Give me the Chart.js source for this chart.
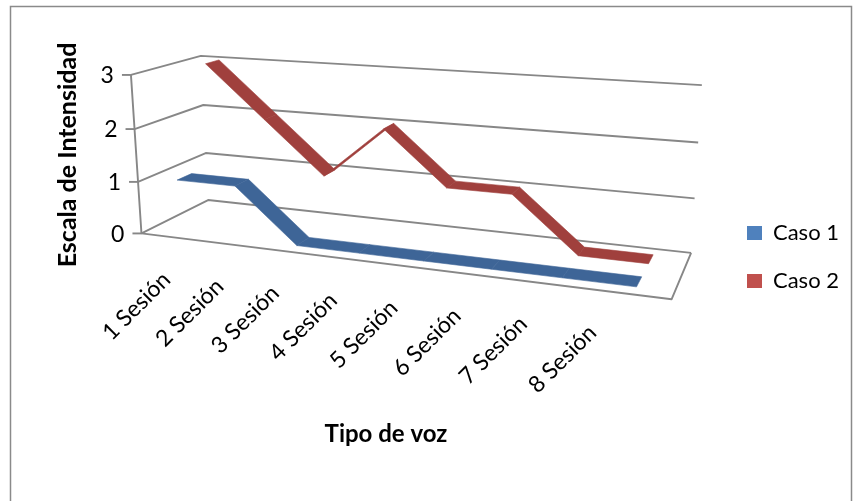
<!DOCTYPE html>
<html>
<head>
<meta charset="utf-8">
<script src="https://cdn.jsdelivr.net/npm/chart.js@4.4.1/dist/chart.umd.min.js"></script>
<style>
  html, body { margin: 0; padding: 0; background: #ffffff; }
  canvas { display: block; }
</style>
</head>
<body>
<canvas id="chart" width="857" height="501"></canvas>
<script>
// ---- data ----
const sessions = ['1 Sesión', '2 Sesión', '3 Sesión', '4 Sesión', '5 Sesión', '6 Sesión', '7 Sesión', '8 Sesión'];
const caso1 = [1, 1, 0, 0, 0, 0, 0, 0];
const caso2 = [3, 2, 1, 2, 1, 1, 0, 0];
const intensityTicks = [0, 1, 2, 3];
const seriesNames = ['Caso 1', 'Caso 2'];

// ---- look ----
const LEGEND_COLORS = ['#4F81BD', '#C0504D'];
const RIBBON_COLORS = ['#3E6597', '#A0403D'];
const GRID_COLOR = '#878787';
const FONT = 'Lato, "Open Sans", sans-serif';

// Placement of the perspective plot box: [u, v, w, x, y]
// u runs along the categories, v up the value axis, w from the front to the back wall.
const BOX_FRAME = [
  [0, 0, 0, 140.7, 233.3], [0, 1, 0, 131.7, 75.0],
  [0, 0, 1, 208.3, 200.0], [0, 1, 1, 200.0, 55.7],
  [1, 0, 1, 690.7, 252.7], [1, 1, 1, 701.7, 85.0],
  [1, 0, 0, 671.7, 299.3],
  [0, 1 / 3, 1, 206.7, 153.3], [0, 2 / 3, 1, 203.0, 105.0],
  [1, 1 / 3, 1, 695.0, 198.3], [1, 2 / 3, 1, 698.3, 142.7]
];
// depth band (front, back) of each series ribbon
const ROW_DEPTH = [[0.15, 0.36], [0.65, 0.86]];

// Least-squares fit of a 3x4 projective camera to the frame points.
function makeProjection(frame) {
  const cx = 420, cy = 180, s = 300;
  const rows = [], rhs = [];
  frame.forEach(([u, v, w, X, Y]) => {
    const x = (X - cx) / s, y = (Y - cy) / s;
    rows.push([u, v, w, 1, 0, 0, 0, 0, -x * u, -x * v, -x * w]); rhs.push(x);
    rows.push([0, 0, 0, 0, u, v, w, 1, -y * u, -y * v, -y * w]); rhs.push(y);
  });
  const n = 11;
  const M = Array.from({ length: n }, () => new Array(n + 1).fill(0));
  rows.forEach((r, k) => {
    for (let i = 0; i < n; i++) {
      for (let j = 0; j < n; j++) M[i][j] += r[i] * r[j];
      M[i][n] += r[i] * rhs[k];
    }
  });
  for (let c = 0; c < n; c++) {
    let p = c;
    for (let r = c + 1; r < n; r++) if (Math.abs(M[r][c]) > Math.abs(M[p][c])) p = r;
    [M[c], M[p]] = [M[p], M[c]];
    for (let r = 0; r < n; r++) {
      if (r === c) continue;
      const f = M[r][c] / M[c][c];
      for (let j = c; j <= n; j++) M[r][j] -= f * M[c][j];
    }
  }
  const q = M.map((r, i) => r[n] / r[i]);
  return (u, v, w) => {
    const d = q[8] * u + q[9] * v + q[10] * w + 1;
    return {
      x: cx + s * (q[0] * u + q[1] * v + q[2] * w + q[3]) / d,
      y: cy + s * (q[4] * u + q[5] * v + q[6] * w + q[7]) / d
    };
  };
}
const project = makeProjection(BOX_FRAME);

// flat chart-area pixel -> unit coordinates
function unitX(chart, px) { const a = chart.chartArea; return (px - a.left) / (a.right - a.left); }
function unitY(chart, py) { const a = chart.chartArea; return (a.bottom - py) / (a.bottom - a.top); }

function polyline(ctx, pts) {
  ctx.beginPath();
  pts.forEach((p, i) => (i ? ctx.lineTo(p.x, p.y) : ctx.moveTo(p.x, p.y)));
  ctx.stroke();
}

const perspectiveBox = {
  id: 'perspectiveBox',
  beforeDraw(chart) {
    const ctx = chart.ctx;
    const yScale = chart.scales.y;
    const xScale = chart.scales.x;
    ctx.save();
    ctx.fillStyle = '#ffffff';
    ctx.fillRect(0, 0, chart.width, chart.height);

    // outer frame
    ctx.strokeStyle = '#8a8a8a';
    ctx.lineWidth = 1.5;
    ctx.strokeRect(10.5, 6.5, 841, 600);

    // walls: value gridlines on the left and back walls
    ctx.strokeStyle = GRID_COLOR;
    ctx.lineWidth = 1.9;
    ctx.lineJoin = 'round';
    yScale.ticks.forEach(t => {
      const v = unitY(chart, yScale.getPixelForValue(t.value));
      polyline(ctx, [project(0, v, 0), project(0, v, 1), project(1, v, 1)]);
      const f = project(0, v, 0);
      polyline(ctx, [{ x: f.x - 9, y: f.y }, f]);
    });
    // value axis edge and floor outline
    polyline(ctx, [project(0, 1, 0), project(0, 0, 0), project(1, 0, 0), project(1, 0, 1)]);

    // value tick labels
    ctx.fillStyle = '#000000';
    ctx.font = '23px ' + FONT;
    ctx.textAlign = 'right';
    ctx.textBaseline = 'middle';
    yScale.ticks.forEach(t => {
      const v = unitY(chart, yScale.getPixelForValue(t.value));
      const f = project(0, v, 0);
      ctx.fillText(String(t.value), f.x - 17, f.y + 1);
    });

    // category labels, slanted along the floor front edge
    ctx.font = '23px ' + FONT;
    const mid = project(0.5, 0, 0);
    xScale.ticks.forEach((t, i) => {
      const u = unitX(chart, xScale.getPixelForTick(i));
      const p = project(u, 0, 0);
      const ax = mid.x + (p.x - mid.x) * 0.92 - 20;
      const ay = mid.y + (p.y - mid.y) * 0.92 + 37;
      ctx.save();
      ctx.translate(ax, ay);
      ctx.rotate(-Math.PI / 4);
      ctx.fillText(xScale.getLabelForValue(t.value), 0, 0);
      ctx.restore();
    });

    // axis titles
    ctx.font = 'bold 25px ' + FONT;
    ctx.textAlign = 'center';
    ctx.save();
    ctx.translate(68, 155);
    ctx.rotate(-Math.PI / 2);
    ctx.fillText('Escala de Intensidad', 0, 0);
    ctx.restore();
    ctx.font = 'bold 24px ' + FONT;
    ctx.fillText('Tipo de voz', 386, 434);
    ctx.restore();
  },
  afterDatasetsDraw(chart) {
    const ctx = chart.ctx;
    ctx.save();
    // back row first so the front ribbon overlaps it
    for (let di = chart.data.datasets.length - 1; di >= 0; di--) {
      const meta = chart.getDatasetMeta(di);
      if (meta.hidden) continue;
      const [wf, wb] = ROW_DEPTH[di];
      const pts = meta.data.map(el => [unitX(chart, el.x), unitY(chart, el.y)]);
      ctx.fillStyle = RIBBON_COLORS[di];
      ctx.strokeStyle = RIBBON_COLORS[di];
      ctx.lineWidth = 0.6;
      ctx.lineJoin = 'round';
      for (let i = 0; i < pts.length - 1; i++) {
        const [u0, v0] = pts[i], [u1, v1] = pts[i + 1];
        const q = [project(u0, v0, wf), project(u1, v1, wf), project(u1, v1, wb), project(u0, v0, wb)];
        ctx.beginPath();
        q.forEach((p, k) => (k ? ctx.lineTo(p.x, p.y) : ctx.moveTo(p.x, p.y)));
        ctx.closePath();
        ctx.fill();
        ctx.stroke();
      }
    }
    ctx.restore();
  }
};

new Chart(document.getElementById('chart'), {
  type: 'line',
  data: {
    labels: sessions,
    datasets: [caso1, caso2].map((values, i) => ({
      label: seriesNames[i],
      data: values,
      backgroundColor: LEGEND_COLORS[i],
      borderColor: LEGEND_COLORS[i],
      borderWidth: 0,
      showLine: false,
      pointRadius: 0,
      pointHoverRadius: 0
    }))
  },
  options: {
    responsive: false,
    animation: false,
    devicePixelRatio: 1,
    layout: { padding: { top: 20, bottom: 7, left: 20, right: 8 } },
    scales: {
      x: { type: 'category', offset: true, display: false },
      y: { type: 'linear', min: intensityTicks[0], max: intensityTicks[intensityTicks.length - 1],
           ticks: { stepSize: 1 }, display: false }
    },
    plugins: {
      legend: {
        position: 'right',
        labels: {
          font: { family: FONT, size: 22 },
          color: '#000000',
          boxWidth: 15,
          boxHeight: 14,
          padding: 26
        }
      },
      title: { display: false },
      tooltip: { enabled: false }
    }
  },
  plugins: [perspectiveBox]
});
</script>
</body>
</html>
